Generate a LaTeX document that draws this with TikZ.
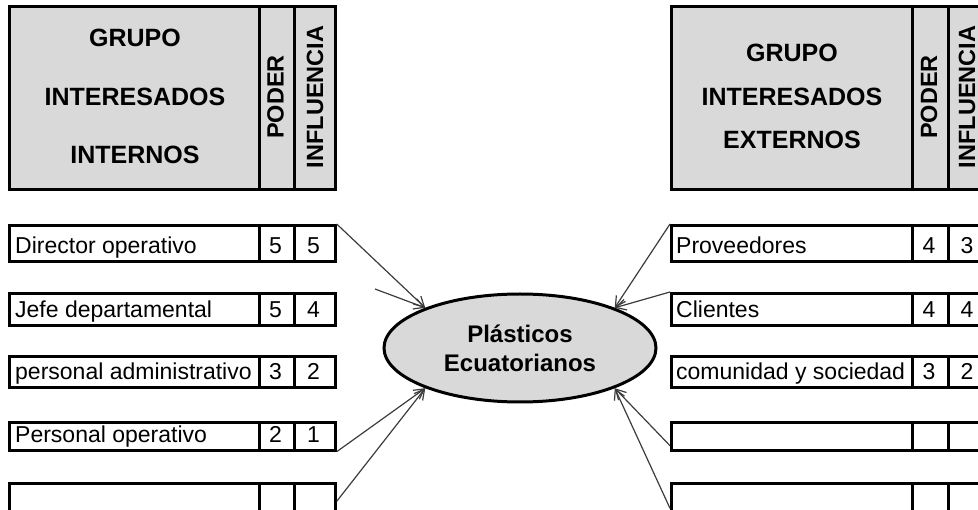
\documentclass[tikz,border=0pt]{standalone}
\usepackage{fontspec}
\setmainfont{Liberation Sans}
\usetikzlibrary{arrows.meta,shapes.geometric}
\definecolor{boxgray}{RGB}{217,217,217}
\definecolor{arrowgray}{RGB}{60,60,60}
\newcommand{\rowL}[6]{%
  \node[cell,minimum width=250pt,minimum height=#3pt] (#1n) at (8,#2) {};
  \node[cell,minimum width=35pt,minimum height=#3pt] (#1p) at (258,#2) {};
  \node[cell,minimum width=41pt,minimum height=#3pt] (#1i) at (293,#2) {};
  \node[rowtxt,anchor=base west] (#1t) at (15,#2+#3-6) {#4};
  \node[rowtxt,anchor=base] (#1pv) at (275.5,#2+#3-6) {#5};
  \node[rowtxt,anchor=base] (#1iv) at (313.5,#2+#3-6) {#6};
}
\newcommand{\rowR}[6]{%
  \node[cell,minimum width=241pt,minimum height=#3pt] (#1n) at (670,#2) {};
  \node[cell,minimum width=36pt,minimum height=#3pt] (#1p) at (911,#2) {};
  \node[cell,minimum width=40pt,minimum height=#3pt] (#1i) at (947,#2) {};
  \node[rowtxt,anchor=base west] (#1t) at (676,#2+#3-6) {#4};
  \node[rowtxt,anchor=base] (#1pv) at (929,#2+#3-6) {#5};
  \node[rowtxt,anchor=base] (#1iv) at (967,#2+#3-6) {#6};
}
\begin{document}
\begin{tikzpicture}[x=1pt,y=-1pt,
  cell/.style={draw=black,line width=2.7pt,inner sep=0pt,anchor=north west,fill=white},
  headcell/.style={cell,fill=boxgray,minimum height=183pt},
  rowtxt/.style={inner sep=0pt,font=\fontsize{23}{27}\selectfont},
  headtxt/.style={inner sep=0pt,font=\fontsize{25}{29}\selectfont\bfseries},
  vtxt/.style={inner sep=0pt,rotate=90,font=\fontsize{23.5}{28}\selectfont\bfseries},
  conn/.style={draw=arrowgray,line width=1.2pt,-{Straight Barb[length=10pt,width=11pt]}}]
\useasboundingbox (0,0) rectangle (978,510);
\clip (0,0) rectangle (978,510);
% left header
\node[headcell,minimum width=250pt] (hLn) at (8,5) {};
\node[headcell,minimum width=35pt] (hLp) at (258,5) {};
\node[headcell,minimum width=41pt] (hLi) at (293,5) {};
\node[headtxt] (hL1) at (135,38) {GRUPO};
\node[headtxt] (hL2) at (135,97) {INTERESADOS};
\node[headtxt] (hL3) at (135,155) {INTERNOS};
\node[vtxt] (hLpt) at (275.5,97) {PODER};
\node[vtxt] (hLit) at (315,97) {INFLUENCIA};
% right header
\node[headcell,minimum width=241pt] (hRn) at (670,5) {};
\node[headcell,minimum width=36pt] (hRp) at (911,5) {};
\node[headcell,minimum width=40pt] (hRi) at (947,5) {};
\node[headtxt] (hR1) at (792,53) {GRUPO};
\node[headtxt] (hR2) at (792,97) {INTERESADOS};
\node[headtxt] (hR3) at (792,140) {EXTERNOS};
\node[vtxt] (hRpt) at (929,97) {PODER};
\node[vtxt] (hRit) at (967,97) {INFLUENCIA};
% rows
\rowL{La}{224}{36}{Director operativo}{5}{5}
\rowL{Lb}{292}{32}{Jefe departamental}{5}{4}
\rowL{Lc}{355}{31}{personal administrativo}{3}{2}
\rowL{Ld}{421}{28}{Personal operativo}{2}{1}
\rowL{Le}{482}{36}{}{}{}
\rowR{Ra}{224}{36}{Proveedores}{4}{3}
\rowR{Rb}{292}{32}{Clientes}{4}{4}
\rowR{Rc}{355}{31}{comunidad y sociedad}{3}{2}
\rowR{Rd}{421}{28}{}{}{}
\rowR{Re}{482}{36}{}{}{}
% centre
\node[ellipse,draw=black,line width=3pt,fill=boxgray,minimum width=272pt,minimum height=108pt,inner sep=0pt,align=center,font=\fontsize{24}{29}\selectfont\bfseries] (pe) at (520,348) {Plásticos\\Ecuatorianos};
% connectors
\coordinate (fa) at (375,289);
\draw[conn] (Lai.north east) -- (pe.157);
\draw[conn] (fa) -- (pe.157);
\draw[conn] (Ldi.south east) -- (pe.203);
\draw[conn] (Lei.east) -- (pe.203);
\draw[conn] (Ran.north west) -- (pe.23);
\draw[conn] (Rbn.north west) -- (pe.23);
\draw[conn] ([yshift=6pt]Rdn.south west) -- (pe.337);
\draw[conn] ([yshift=-7pt]Ren.west) -- (pe.337);
\end{tikzpicture}
\end{document}
